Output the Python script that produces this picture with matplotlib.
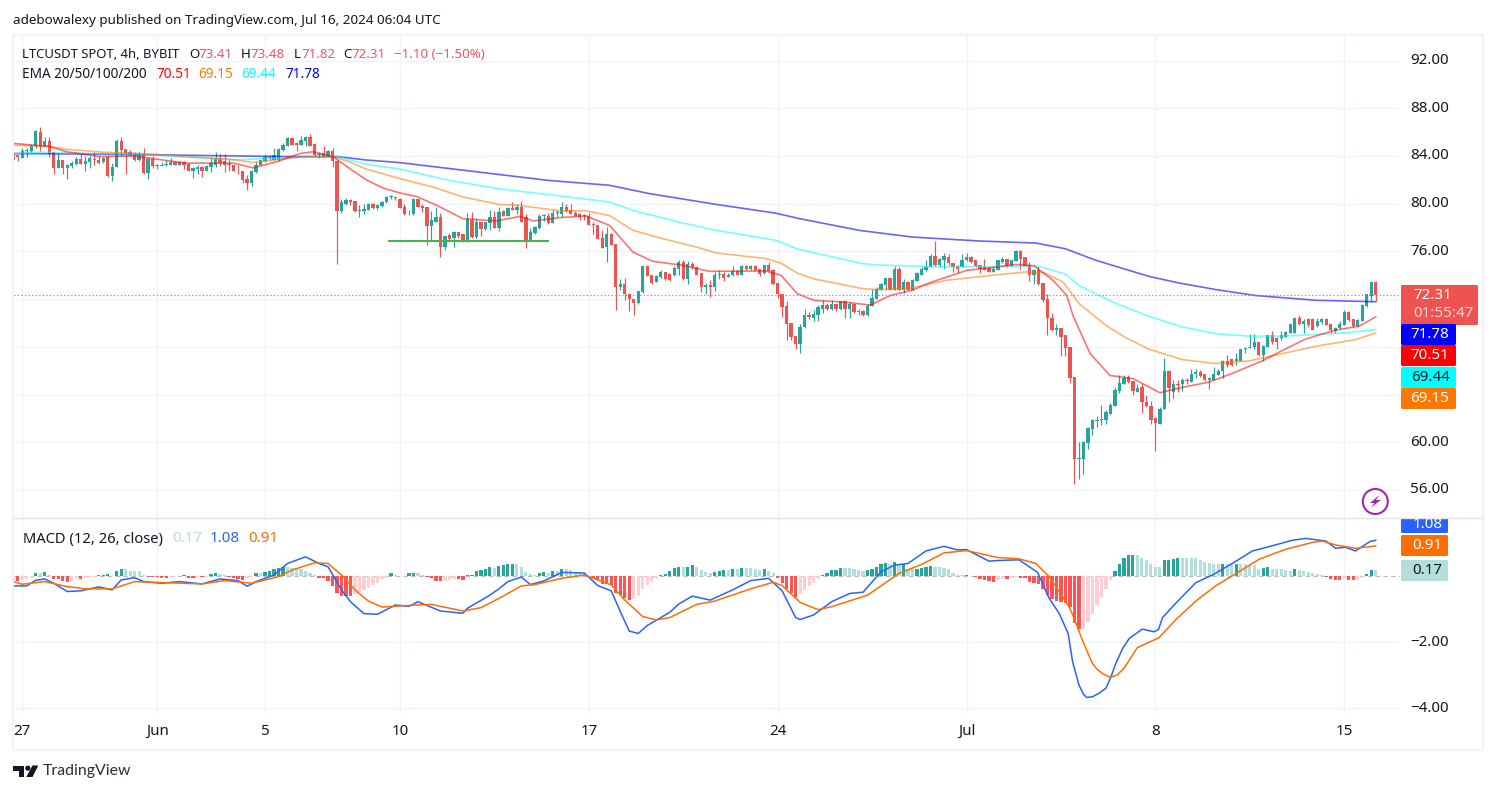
import matplotlib
matplotlib.use("Agg")
import matplotlib.pyplot as plt
from matplotlib.patches import Rectangle, Circle, Polygon, FancyBboxPatch
from matplotlib.ticker import FixedLocator

# ---- LTCUSDT 4h candles ----
opens = [
    84.2,84.1,83.85,84.4,84.4,84.8,86.0,84.8,85.25,84.3,
    83.0,83.65,82.95,83.15,83.35,83.75,83.35,83.5,83.75,83.65,
    83.5,83.9,82.3,83.05,85.25,84.55,84.35,84.1,83.65,84.15,
    82.6,83.75,83.2,83.15,83.2,83.25,83.5,83.25,83.5,83.3,
    82.75,82.9,83.1,82.7,83.1,83.25,83.85,83.55,83.35,83.25,
    82.85,82.75,82.1,81.75,82.65,83.2,83.55,83.9,83.7,83.7,
    84.5,84.85,85.5,85.05,84.9,85.25,85.6,85.0,84.1,84.25,
    83.9,84.4,83.6,79.4,79.95,80.3,80.2,79.4,79.4,79.5,
    80.0,79.6,79.8,80.1,80.55,80.55,80.42,79.7,79.1,79.1,
    80.35,79.8,79.7,78.1,78.5,78.9,76.35,77.35,77.15,77.6,
    77.45,76.8,78.65,77.2,78.5,77.85,78.35,78.9,78.0,79.4,
    79.0,79.6,79.5,79.75,78.9,76.85,77.5,78.0,78.95,79.0,
    78.4,79.2,79.1,79.75,79.45,79.25,79.1,79.0,78.95,78.25,
    78.2,77.15,76.35,77.45,76.6,73.05,73.3,72.45,72.0,71.7,
    72.6,74.75,74.0,73.4,73.85,74.25,74.1,74.0,74.5,75.1,
    73.65,74.95,74.7,74.15,73.0,73.15,73.0,74.0,74.1,73.85,
    74.0,74.35,74.05,74.75,74.5,74.75,74.5,74.15,74.85,74.45,
    73.35,72.45,71.4,70.0,68.9,68.2,69.65,70.65,70.45,70.65,
    71.2,71.5,71.2,71.55,71.2,71.8,71.2,71.55,71.0,71.0,
    70.65,71.45,72.05,72.8,73.15,73.8,72.8,74.5,72.8,73.4,
    72.8,73.5,74.05,74.4,74.7,75.65,74.85,75.3,75.55,75.0,
    74.75,74.65,75.25,75.5,75.25,74.85,74.65,74.6,74.3,74.45,
    75.15,75.4,74.8,75.2,76.0,75.5,74.9,74.0,74.4,73.35,
    72.0,70.45,69.4,69.6,68.95,67.95,65.45,58.6,58.6,59.9,
    61.1,61.8,61.85,61.85,62.4,63.05,64.3,64.9,65.5,65.1,
    64.25,64.6,63.4,63.05,62.0,61.55,62.75,65.95,64.2,64.9,
    64.85,65.2,65.05,65.7,65.85,65.7,65.2,65.25,65.65,65.95,
    66.8,66.95,66.8,66.85,67.8,67.9,67.95,68.4,67.3,68.0,
    68.95,68.75,68.7,68.85,69.2,69.2,70.45,69.95,70.3,70.35,
    69.75,70.05,70.35,69.9,69.35,69.55,69.8,70.95,70.3,69.75,
    70.2,71.4,72.3,73.41,
]
highs = [
    84.3,84.1,84.65,84.65,85.0,86.2,86.4,85.55,85.55,84.3,
    84.25,83.65,83.3,83.6,83.95,84.15,84.0,84.0,84.3,84.0,
    83.95,84.1,83.4,85.4,85.55,84.55,84.5,84.3,84.35,84.65,
    83.95,84.0,83.3,83.5,83.7,83.8,83.55,83.55,83.55,83.4,
    83.05,83.2,83.15,83.25,83.95,84.35,84.15,84.15,83.7,83.3,
    83.25,82.75,82.4,82.85,83.5,83.7,84.15,84.1,84.7,84.65,
    85.1,85.55,85.55,85.15,85.65,85.7,85.85,85.05,84.35,84.85,
    84.5,84.65,83.65,80.35,80.45,80.35,80.2,79.9,80.0,80.05,
    80.05,80.0,80.25,80.65,80.7,80.65,80.5,79.95,79.5,80.45,
    80.4,79.95,79.7,79.35,79.7,79.2,77.3,77.55,77.7,77.6,
    77.45,79.2,79.3,78.8,78.5,78.45,79.45,79.4,79.75,79.5,
    79.75,80.15,79.95,80.2,79.15,78.0,78.1,79.15,79.1,79.25,
    79.45,79.45,80.1,79.95,79.95,79.4,79.2,79.15,79.2,78.45,
    78.2,77.8,78.05,77.5,76.65,73.7,73.75,72.45,72.0,72.65,
    74.8,74.85,74.05,74.0,74.45,74.3,74.2,74.75,75.3,75.25,
    75.2,75.1,74.75,74.2,73.35,73.6,74.25,74.4,74.25,74.2,
    74.75,74.4,74.85,74.85,74.9,74.85,74.55,74.85,75.1,74.5,
    73.35,72.45,71.85,70.0,68.9,69.95,71.2,70.9,71.1,71.5,
    71.95,71.65,71.95,71.55,71.85,71.9,71.75,71.6,71.2,71.05,
    71.55,72.85,73.0,73.35,73.8,73.85,74.75,74.65,73.65,73.55,
    73.7,74.25,74.65,75.25,75.8,76.85,75.45,75.85,75.75,75.0,
    74.85,75.75,75.85,75.65,75.3,74.9,75.4,74.7,74.75,75.3,
    75.5,75.4,75.3,76.15,76.15,75.55,75.1,74.55,74.75,73.35,
    72.4,70.8,69.9,69.6,68.95,68.0,65.45,60.0,60.1,61.3,
    61.95,62.2,63.1,62.7,63.3,64.6,65.65,65.65,65.6,65.1,
    64.9,64.85,63.95,63.5,62.0,62.95,67.1,66.05,65.2,65.2,
    65.4,65.4,66.15,66.15,66.05,65.75,65.45,66.3,66.15,66.9,
    67.3,67.0,67.5,67.8,68.0,69.1,69.1,68.4,68.15,69.0,
    69.3,68.85,69.35,69.3,69.95,70.5,70.65,70.3,70.4,70.4,
    70.4,70.45,70.45,69.95,69.65,70.2,71.1,71.0,70.35,70.3,
    71.55,72.45,73.45,73.48,
]
lows = [
    83.6,83.6,83.85,83.95,84.35,84.7,84.45,84.8,83.95,82.45,
    83.0,82.5,82.1,83.0,83.2,83.35,82.7,83.0,83.25,83.3,
    83.45,82.2,81.9,83.05,84.0,82.5,84.0,83.6,83.6,82.5,
    82.1,83.0,82.9,83.15,83.15,83.25,83.2,83.25,82.9,82.75,
    82.15,82.5,82.25,82.7,82.65,83.1,83.15,82.65,82.7,82.7,
    82.45,81.75,81.15,81.5,82.6,83.2,83.5,83.65,83.65,83.6,
    84.45,84.8,84.9,84.45,84.9,84.85,84.85,84.0,83.8,83.9,
    83.9,83.1,74.95,79.25,79.9,79.9,79.3,78.9,79.15,79.5,
    79.55,79.5,79.75,80.05,80.35,80.3,79.6,79.05,79.05,79.05,
    79.7,79.3,76.5,76.9,78.45,75.55,76.15,76.95,76.35,77.15,
    76.75,76.8,77.15,77.15,77.25,77.8,77.8,77.95,77.75,78.95,
    78.95,79.45,79.15,78.45,76.3,76.85,77.45,77.9,78.55,78.3,
    78.4,78.9,78.9,79.3,79.15,78.95,78.65,78.65,78.2,77.45,
    77.0,76.25,75.1,76.5,71.05,72.75,71.95,71.0,70.65,71.55,
    72.5,73.9,73.3,73.4,73.8,73.6,73.5,73.95,74.0,73.6,
    73.25,74.55,74.0,72.6,72.45,72.2,72.7,73.65,73.5,73.85,
    73.9,74.0,74.05,74.45,74.45,74.35,73.95,74.1,74.3,73.2,
    72.1,70.5,68.55,68.6,67.85,67.5,69.6,70.35,70.2,70.2,
    70.85,71.1,71.1,71.0,71.05,70.4,70.4,70.85,70.7,70.55,
    70.55,71.4,72.05,72.8,72.8,72.75,72.75,72.75,72.55,72.8,
    72.8,73.5,74.0,74.35,74.65,74.8,74.65,74.55,74.9,74.25,
    74.15,74.65,75.2,75.05,74.7,74.2,74.4,74.25,74.3,74.4,
    75.0,74.65,74.75,75.2,74.5,74.75,73.5,73.3,73.15,71.75,
    68.95,69.3,68.95,67.2,67.2,64.95,56.5,56.9,57.35,59.45,
    60.65,61.3,61.45,61.55,62.35,63.0,64.15,64.9,64.95,63.95,
    64.2,62.45,62.95,61.55,59.25,61.5,62.75,63.4,63.75,64.2,
    64.3,64.9,65.05,65.4,65.5,65.15,64.5,65.25,65.6,65.4,
    66.35,66.4,66.45,66.85,67.45,67.9,67.85,67.25,66.8,67.95,
    68.2,67.85,68.55,68.8,69.2,69.15,69.85,69.15,69.65,69.4,
    69.65,69.95,69.85,69.15,69.15,69.5,69.8,70.15,69.65,69.65,
    70.15,71.35,71.75,71.82,
]
closes = [
    83.7,83.9,84.45,84.5,84.85,86.05,84.8,85.25,84.2,83.0,
    83.65,82.95,83.25,83.4,83.75,83.35,83.6,83.8,83.7,83.45,
    83.8,82.3,83.05,85.25,84.5,84.25,84.05,83.65,84.15,82.6,
    83.75,83.15,83.15,83.2,83.35,83.5,83.25,83.5,83.25,82.75,
    83.0,83.1,82.7,83.15,83.4,83.85,83.45,83.25,83.2,82.75,
    82.8,82.0,81.75,82.75,83.25,83.65,83.9,83.8,84.05,84.6,
    84.95,85.5,84.95,84.95,85.35,85.6,84.85,84.1,84.2,83.9,
    84.4,83.55,79.4,80.15,80.3,80.15,79.4,79.5,79.55,80.0,
    79.65,79.85,80.15,80.55,80.55,80.5,79.61,79.1,79.15,80.4,
    79.7,79.65,78.1,78.6,78.9,76.35,77.3,77.05,77.6,77.3,
    76.8,78.7,77.2,78.45,77.85,78.45,78.85,78.0,79.3,79.0,
    79.6,79.5,79.75,78.45,76.85,77.6,78.05,79.0,79.0,78.4,
    79.2,79.25,79.75,79.4,79.15,79.0,78.9,78.95,78.2,78.2,
    77.05,76.3,77.45,76.5,73.05,73.3,72.4,72.0,71.7,72.65,
    74.75,73.95,73.35,73.95,74.25,73.65,73.6,74.6,75.1,73.65,
    74.95,74.65,74.0,73.0,73.15,73.0,74.05,74.1,73.75,74.05,
    74.35,74.05,74.8,74.5,74.75,74.4,74.1,74.85,74.35,73.3,
    72.4,71.3,69.9,68.85,68.25,69.7,70.65,70.5,70.75,71.35,
    71.5,71.2,71.55,71.2,71.8,71.2,71.55,70.9,70.95,70.65,
    71.45,72.1,72.85,73.25,73.8,72.8,74.5,72.8,73.4,72.8,
    73.6,74.15,74.5,74.7,75.65,74.85,75.4,75.6,75.0,74.65,
    74.55,75.3,75.5,75.1,74.75,74.55,74.45,74.3,74.55,75.25,
    75.4,74.75,75.25,76.0,75.4,74.8,74.0,74.4,73.25,71.95,
    70.4,69.4,69.6,68.85,67.9,65.35,58.6,58.65,60.05,61.2,
    61.85,61.9,61.95,62.5,63.15,64.4,65.0,65.35,65.05,64.3,
    64.55,63.35,63.0,61.9,61.6,62.8,65.95,64.55,64.9,64.8,
    65.2,65.1,65.75,65.85,65.55,65.2,65.4,65.75,66.0,66.8,
    66.5,66.5,66.95,67.8,67.9,68.0,68.4,67.3,68.1,68.95,
    68.4,68.4,68.95,69.25,69.95,70.45,69.95,70.15,69.8,69.45,
    70.2,70.3,69.85,69.4,69.6,69.9,70.95,70.25,69.75,70.25,
    71.5,72.4,73.41,72.31,
]

# ---- Moving averages (bar position, price) ----
ema200_bars = [0,20,40,60,72,78.5,86,119,132.6,141.5,156.3,169.6,174.8,188.2,200,214.8,227.4,234,240.8,252.6,259.3,267.4,276.3,289.7,303]
ema200_vals = [84.2,84.15,84.05,83.95,83.95,83.66,83.44,81.95,81.54,80.84,79.94,79.2,78.75,77.76,77.2,76.87,76.7,76.22,75.25,73.9,73.35,72.8,72.3,71.9,71.78]
ema100_bars = [0,5,8,30,49,57,72,78.5,86,97,108,121.5,132.6,137.8,148.9,156.3,169.6,174.4,188.9,192.6,207.4,222.3,228,234,237,244.5,252.6,260,267.4,274.9,282.3,289.7,297,303]
ema100_vals = [84.2,84.3,84.3,84.1,83.66,83.8,83.95,83.3,82.9,81.95,81.25,80.65,80.14,79.44,78.38,77.77,76.93,76.2,74.97,74.85,74.7,74.75,74.75,74.1,73.15,71.75,70.55,69.67,69.1,68.9,68.9,69.03,69.2,69.44]
ema50_bars = [0,4.5,8,11.9,20.7,29,38.5,49,53.3,57.8,63.7,71.1,74.8,78.5,86,93.3,100,108,112.5,121.5,127.4,132.6,137.8,143.6,151.9,156.3,167.4,170.7,174.4,178,189,192.6,200,207.4,217.8,225,229,233.5,237.1,243,247.4,252.6,260,267.4,274.9,282.3,289.7,298.5,303]
ema50_vals = [84.9,84.85,84.8,84.55,84.3,84.2,83.95,83.7,83.45,83.65,83.9,83.95,83.5,82.9,82.1,81.4,80.56,79.94,79.86,79.4,79.4,79.0,77.77,77.15,76.37,75.87,75.4,75.02,74.18,73.7,72.87,72.8,72.95,73.57,74.0,74.27,74.25,73.43,71.6,69.8,68.77,67.8,66.93,66.6,66.82,67.44,68.05,68.6,69.15]
ema20_bars = [0,4.5,8,11.9,19.2,26.8,30.4,38.5,49,53.3,58.5,63.7,66.6,71.1,74.8,78.5,82.3,86,89.7,94.2,100,107.5,112.7,115.7,121.5,127.4,132.6,137.8,142.2,148.9,154.8,167.4,170.7,174.4,178,184.7,190.6,195,200,204,212,217.8,223,227,231.3,234.3,235.8,239.5,243.9,249.1,255,260,266,271,277.8,282.3,287.4,294,299.3,303]
ema20_vals = [85.06,84.9,84.8,84.35,83.95,84.0,83.8,83.4,83.4,83.0,83.5,84.2,84.35,83.95,82.95,82.0,81.3,80.9,80.6,79.86,78.74,78.55,78.94,78.55,78.83,78.97,78.18,75.95,75.17,74.83,74.33,74.36,74.0,72.45,71.9,71.75,71.5,72.3,72.75,73.4,74.4,74.65,74.9,74.8,73.55,72.3,70.5,67.43,65.6,65.33,64.15,64.6,65.05,65.76,66.82,67.7,68.65,69.4,69.73,70.51]

# ---- MACD pane ----
histogram = [
    -.15,-.16,-.13,-.1,-.07,.1,.08,.11,.03,-.1,
    -.1,-.15,-.17,-.15,-.1,-.1,-.07,-.05,-.03,.02,
    .03,.05,.01,.15,.2,.2,.15,.15,.15,.03,
    -.02,-.03,-.04,-.05,-.05,-.02,.01,.01,.02,-.05,
    -.05,-.04,-.04,-.03,.06,.08,.05,.03,-.03,-.05,
    -.08,-.12,-.06,-.03,.1,.1,.12,.14,.2,.25,
    .28,.28,.25,.25,.22,.15,.08,.03,-.05,-.07,
    -.15,-.3,-.5,-.6,-.6,-.62,-.55,-.48,-.42,-.35,
    -.28,-.2,-.1,-.05,.08,.04,.01,.01,.09,.1,
    .1,.03,-.02,-.05,-.15,-.16,-.14,-.12,-.1,-.1,
    -.11,.03,.04,.15,.17,.2,.27,.25,.3,.33,
    .35,.37,.36,.28,.13,.07,.03,.1,.12,.08,
    .15,.15,.21,.2,.17,.12,.08,.05,.01,-.06,
    -.1,-.25,-.25,-.28,-.5,-.58,-.68,-.72,-.7,-.62,
    -.38,-.26,-.17,-.08,.04,.07,.14,.23,.28,.26,
    .28,.32,.26,.17,.11,.09,.12,.15,.17,.17,
    .2,.2,.23,.23,.23,.22,.18,.2,.16,.08,
    -.06,-.2,-.4,-.5,-.65,-.55,-.42,-.3,-.22,-.1,
    .04,.1,.17,.18,.23,.23,.23,.2,.17,.14,
    .17,.22,.28,.35,.4,.36,.42,.33,.35,.22,
    .2,.22,.25,.26,.3,.28,.27,.25,.2,.1,
    .04,.03,.04,.01,-.03,-.09,-.11,-.15,-.19,-.12,
    -.1,-.1,-.07,-.03,-.05,-.05,-.17,-.2,-.25,-.38,
    -.57,-.7,-.75,-.78,-.82,-.95,-1.42,-1.62,-1.6,-1.4,
    -1.15,-.88,-.65,-.4,-.12,.15,.37,.55,.63,.65,
    .63,.55,.47,.35,.27,.27,.47,.5,.53,.55,
    .55,.55,.55,.55,.5,.42,.4,.37,.36,.37,
    .36,.35,.37,.37,.36,.33,.33,.22,.24,.27,
    .22,.2,.2,.17,.15,.2,.19,.15,.11,.09,
    .05,.02,-.04,-.08,-.12,-.13,-.1,-.13,-.13,-.11,
    -.05,.06,.19,.17,
]
macd_bars = [0,3,5,7,9,12,15,19,22,24,27,29,33,37,42,46,50,52,54,58,61,65,68,70,73,75,78,81,85,88,90,95,100,101,106,108,
             110,113,115,118,122,127,130,133,135,137,139,141,146,148,151,155,160,164,168,171,174,175,178,182,186,189,193,196,199,203,207,210,212,217,
             219,223.7,227.8,230.4,232.6,234.6,235.6,236.3,237,238,238.7,240,241.5,243,244,245.2,246.7,248.2,251.1,253.7,254.7,255.6,258.5,263,266.7,271.1,275.6,278.5,284.4,287.4,291.9,294.1,296.3,298.5,301.8,303]
macd_vals = [-.3,-.3,-.13,-.09,-.22,-.47,-.45,-.33,-.42,-.12,-.05,-.17,-.22,-.17,-.24,-.09,-.14,-.31,-.17,.03,.38,.58,.38,.28,-.42,-.78,-1.14,-1.16,-.88,-.92,-.78,-1.06,-1.13,-.98,-.58,-.39,
             -.17,-.03,-.26,-.15,.11,.09,-.29,-.45,-1.08,-1.67,-1.74,-1.5,-1.1,-.85,-.61,-.73,-.42,-.14,-.07,-.45,-1.26,-1.32,-1.18,-.78,-.53,-.49,.13,.33,.38,.76,.9,.79,.8,.45,
             .47,.49,.11,-.68,-1.13,-1.74,-2.6,-2.95,-3.3,-3.58,-3.68,-3.66,-3.55,-3.4,-3.1,-2.65,-2.2,-1.89,-1.61,-1.69,-1.62,-1.26,-.83,-.2,.03,.38,.76,.86,1.08,1.14,1.06,.84,.87,.76,1.05,1.08]
signal_bars = [0,2,7,12,16,22,27,33,42,47,53,59,62,67,70,73,76,79,82,87,93,100,104,108,
               113,116,122,127,133,136,140,143,146,152,156,164,169,171,175,179,182,190,197,202,207,212,
               219,223.7,227.4,230.4,232.5,234.8,236,237.5,239,240,241,242.5,244,245.5,247,250,254.8,258.5,263,267.4,272.6,277.1,283,289,291.1,294.1,298.5,303]
signal_vals = [-.17,-.25,-.17,-.32,-.39,-.39,-.17,-.2,-.24,-.14,-.22,-.02,.18,.4,.38,.03,-.42,-.76,-.94,-.9,-.86,-1.06,-.96,-.68,
               -.3,-.26,-.07,.03,-.27,-.73,-1.23,-1.33,-1.26,-.86,-.76,-.39,-.19,-.29,-.8,-1.02,-.93,-.58,.08,.35,.7,.77,
               .56,.52,.38,-.02,-.45,-.93,-1.3,-1.85,-2.34,-2.65,-2.82,-2.98,-3.07,-3.0,-2.8,-2.17,-1.87,-1.33,-.76,-.3,.13,.51,.81,1.02,1.06,.94,.84,.91]

# ---- Axis labels ----
date_ticks = [2, 32, 56, 86, 128, 170, 212, 254, 296]
date_labels = ["27", "Jun", "5", "10", "17", "24", "Jul", "8", "15"]
price_grid = [92, 88, 84, 80, 76, 72, 68, 64, 60, 56]
price_labels = [92, 88, 84, 80, 76, 60, 56]
macd_grid = [-2, -4]

support_level = 76.87
support_span = (83.5, 119)
last_close = 72.31

# ---- Page layout in pixels ----
W, H = 1496, 793
BAR_PX, BAR0_PX = 4.4965, 13.25
FONT = ["Noto Sans", "DejaVu Sans"]
INK = "#131722"
UP, DOWN = "#26a69a", "#ef5350"
GRID = "#f0f3fa"
EDGE = "#e0e3eb"
AXIS_SIZE = 10.9

fig = plt.figure(figsize=(W / 100, H / 100), dpi=100, facecolor="white")
plt.rcParams["font.family"] = FONT


def pane(left, top, right, bottom):
    return fig.add_axes([left / W, 1 - bottom / H, (right - left) / W, (bottom - top) / H])


def px2bar(x):
    return (x - BAR0_PX) / BAR_PX


PL, PR = 14, 1400
price_ax = pane(PL, 35, PR, 518)
macd_ax = pane(PL, 518, PR, 713)

# price axis: 92 at y=60.5, 11.93 px per unit
price_ax.set_ylim(92 - (518 - 60.5) / 11.93, 92 + (60.5 - 35) / 11.93)
# MACD axis: 0 at y=576, 33 px per unit
macd_ax.set_ylim(-(713 - 576) / 33, (576 - 518) / 33)

for ax in (price_ax, macd_ax):
    ax.set_xlim(px2bar(PL), px2bar(PR))
    ax.patch.set_alpha(0)
    for s in ax.spines.values():
        s.set_visible(False)
    ax.tick_params(left=False, bottom=False, labelleft=False, labelbottom=False)
    ax.xaxis.set_major_locator(FixedLocator(date_ticks))
    ax.grid(True, axis="both", color=GRID, lw=1.0)
    ax.set_axisbelow(True)

price_ax.yaxis.set_major_locator(FixedLocator(price_grid))
macd_ax.yaxis.set_major_locator(FixedLocator(macd_grid))

# candles
idx = list(range(len(opens)))
cols = [UP if c >= o else DOWN for o, c in zip(opens, closes)]
price_ax.vlines(idx, lows, highs, colors=cols, lw=0.85, zorder=3)
price_ax.bar(idx, [max(abs(c - o), 0.06) for o, c in zip(opens, closes)],
             bottom=[min(o, c) for o, c in zip(opens, closes)],
             width=0.74, color=cols, lw=0, zorder=3)

# moving averages
for bars, vals, col, al in [
    (ema200_bars, ema200_vals, "#0000ff", 0.6),
    (ema100_bars, ema100_vals, "#00ffff", 0.55),
    (ema50_bars, ema50_vals, "#ff7700", 0.55),
    (ema20_bars, ema20_vals, "#ff0000", 0.55),
]:
    price_ax.plot(bars, vals, color=col, alpha=al, lw=1.2, zorder=4, solid_joinstyle="round")

price_ax.plot(support_span, [support_level] * 2, color="#4caf50", lw=1.5, zorder=5)
price_ax.axhline(last_close, color=DOWN, lw=0.8, ls=(0, (1, 2.2)), zorder=5)

# MACD histogram, shaded by whether the bar grew or shrank
hist_cols = []
prev = histogram[0] - 0.01
for h in histogram:
    if h >= 0:
        hist_cols.append(UP if h > prev else "#b2dfdb")
    else:
        hist_cols.append("#ffcdd2" if h > prev else "#ff5252")
    prev = h
macd_ax.axhline(0, color="#b8bcc4", lw=0.8, ls=(0, (4, 3)), zorder=1)
macd_ax.bar(idx, histogram, width=0.72, color=hist_cols, lw=0, zorder=3)
macd_ax.plot(macd_bars, macd_vals, color="#2962ff", lw=1.1, zorder=4)
macd_ax.plot(signal_bars, signal_vals, color="#ff6d00", lw=1.1, zorder=5)

# overlay in page pixels for frame, labels and badges
ov = fig.add_axes([0, 0, 1, 1], zorder=10)
ov.set_xlim(0, W)
ov.set_ylim(H, 0)
ov.axis("off")
ov.patch.set_alpha(0)

ov.add_patch(Rectangle((13, 34.5), 1470, 715, fill=False, ec=GRID, lw=1.6))
ov.plot([13, 1483], [518, 518], color=EDGE, lw=1)


def txt(x, y, s, col=INK, size=9.6, ha="left", weight="normal", **kw):
    return ov.text(x, y, s, color=col, fontsize=size, ha=ha, va="center", weight=weight, **kw)


txt(13, 20.5, "adebowalexy published on TradingView.com, Jul 16, 2024 06:04 UTC", size=9.68)

LOSS = "#f7525f"
txt(22, 54.5, "LTCUSDT SPOT, 4h, BYBIT", size=9.45)
for x, s, c in [(189, "O", INK), (198, "73.41", LOSS), (241, "H", INK), (250, "73.48", LOSS),
                (294, "L", INK), (301, "71.82", LOSS), (343, "C", INK), (351, "72.31", LOSS),
                (394, "\u22121.10 (\u22121.50%)", LOSS)]:
    txt(x, 54.5, s, c)

txt(22, 75, "EMA 20/50/100/200", size=9.75)
for x, s, c in [(156, "70.51", "#ff0000"), (198, "69.15", "#ff7700"),
                (241, "69.44", "#00ffff"), (285, "71.78", "#0000ff")]:
    txt(x, 75, s, c, size=9.8)

txt(23, 539, "MACD (12, 26, close)", size=10.6)
for x, s, c in [(172, "0.17", "#b2dfdb"), (210, "1.08", "#2962ff"), (248, "0.91", "#ff6d00")]:
    txt(x, 539, s, c, size=10.9)

for v in price_labels:
    y = 60.5 + (92 - v) * 11.93
    txt(1449, y, f"{v:.2f}", ha="right", size=AXIS_SIZE)
for v in macd_grid:
    y = 576 - 33 * v
    txt(1449, y, f"\u2212{abs(v):.2f}", ha="right", size=AXIS_SIZE)

for b, lab in zip(date_ticks, date_labels):
    bold = lab in ("Jun", "Jul")
    txt(BAR0_PX + BAR_PX * b, 731.5, lab, ha="center", weight="bold" if bold else "normal", size=AXIS_SIZE)


def badge(x0, y0, x1, y1, col):
    p = FancyBboxPatch((x0 + 1, y0 + 1), x1 - x0 - 2, y1 - y0 - 2,
                       boxstyle="round,pad=1,rounding_size=1.5", fc=col, ec="none")
    ov.add_patch(p)
    return p


badge(1401, 285, 1478, 325, DOWN)
txt(1413, 295.5, "72.31", "white", size=AXIS_SIZE)
txt(1413, 313.5, "01:55:47", "#fbd5d5", size=AXIS_SIZE)
for y0, y1, col, s, tc in [(324, 345, "#0000ff", "71.78", "white"), (345, 366, "#ff0000", "70.51", "white"),
                           (367, 388, "#00ffff", "69.44", INK), (388, 409, "#ff7700", "69.15", "white")]:
    badge(1401, y0, 1456, y1, col)
    txt(1449.5, (y0 + y1) / 2, s, tc, ha="right", size=AXIS_SIZE)

clip = Rectangle((1401, 518), 60, 16, transform=ov.transData)
top_badge = badge(1401, 514, 1448, 533, "#2962ff")
top_badge.set_clip_path(clip)
t = txt(1442.5, 524, "1.08", "white", ha="right", size=AXIS_SIZE)
t.set_clip_path(clip)
t.set_clip_on(True)
badge(1401, 535, 1448, 556, "#ff6d00")
txt(1442.5, 545.5, "0.91", "white", ha="right", size=AXIS_SIZE)
badge(1401, 560, 1448, 581, "#b2dfdb")
txt(1442.5, 570.5, "0.17", INK, ha="right", size=AXIS_SIZE)

# lightning badge
PURPLE = "#9c27b0"
ov.add_patch(Circle((1375.3, 501.5), 12.5, fill=False, ec=PURPLE, lw=1.5))
ov.add_patch(Polygon([(1379.5, 495), (1370, 503), (1374.5, 503), (1371, 507.5), (1381, 500),
                      (1376, 500)], closed=True, fc=PURPLE, ec="none"))

# TradingView wordmark
LOGO = "#131722"
ov.add_patch(Polygon([(13, 765.5), (24.5, 765.5), (24.5, 777), (19.5, 777), (19.5, 771), (13, 771)], fc=LOGO, ec="none"))
ov.add_patch(Circle((27.8, 768.2), 2.6, fc=LOGO, ec="none"))
ov.add_patch(Polygon([(32.5, 765.5), (38.3, 765.5), (32.5, 777), (26.2, 777)], fc=LOGO, ec="none"))
ov.text(43, 771.5, "TradingView", color="#2a2e39", fontsize=11.4, family="Lato", va="center")

fig.savefig("out.png", dpi=100, facecolor="white")
